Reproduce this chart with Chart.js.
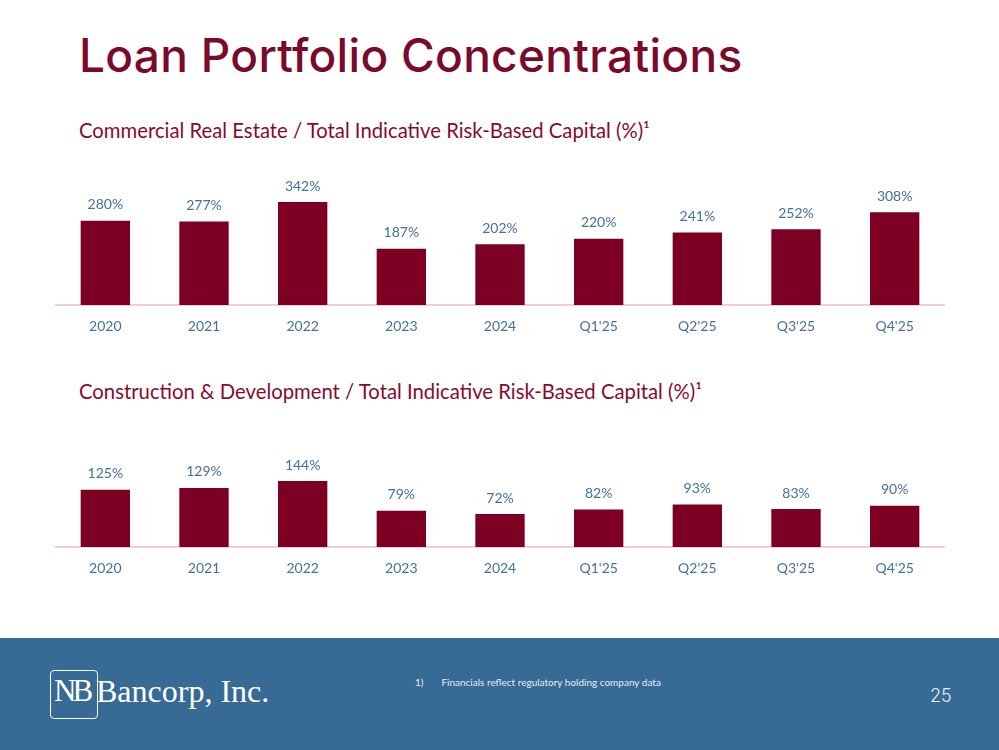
<!DOCTYPE html>
<html>
<head>
<meta charset="utf-8">
<script src="https://cdn.jsdelivr.net/npm/chart.js@4.4.0/dist/chart.umd.min.js"></script>
<style>
  html, body { margin: 0; padding: 0; background: #fff; }
  body { width: 999px; height: 750px; position: relative; overflow: hidden; font-family: Lato, "Open Sans", sans-serif; }
  .title { position: absolute; left: 79px; top: 27px; font-family: Inter, sans-serif; font-weight: 500; font-size: 46px; color: #7a0a2c; letter-spacing: 0.3px; white-space: nowrap; }
  .sub { position: absolute; left: 79px; font-size: 20.3px; color: #860b30; white-space: nowrap; }
  .box { position: absolute; left: 0; width: 999px; height: 200px; }
  .footer { position: absolute; left: 0; top: 638px; width: 999px; height: 112px; background: #376a94; }
  .logo-box { position: absolute; left: 50px; top: 32px; width: 46px; height: 47px; border: 1.5px solid #fff; border-radius: 4px; }
  .logo-nb { position: absolute; left: 54px; top: 35px; font-family: "Liberation Serif", serif; font-size: 31px; color: #fff; letter-spacing: -4px; }
  .logo-name { position: absolute; left: 96px; top: 35px; font-family: "Liberation Serif", serif; font-size: 32px; color: #fff; white-space: nowrap; }
  .note { position: absolute; left: 415px; top: 38px; font-size: 10px; color: #e6edf3; white-space: nowrap; }
  .page { position: absolute; left: 930px; top: 47px; font-family: Inter, sans-serif; font-weight: 300; font-size: 18px; color: #e8eef4; }
</style>
</head>
<body>
<div class="title">Loan Portfolio Concentrations</div>
<div class="sub" style="top:118px">Commercial Real Estate / Total Indicative Risk-Based Capital (%)¹</div>
<div class="box" style="top:160px"><canvas id="creChart"></canvas></div>
<div class="sub" style="top:379px">Construction &amp; Development / Total Indicative Risk-Based Capital (%)¹</div>
<div class="box" style="top:420px"><canvas id="cdChart"></canvas></div>
<div class="footer">
  <div class="logo-box"></div>
  <div class="logo-nb">NB</div>
  <div class="logo-name">Bancorp, Inc.</div>
  <div class="note">1)&nbsp;&nbsp;&nbsp;&nbsp;&nbsp;&nbsp;&nbsp;Financials reflect regulatory holding company data</div>
  <div class="page">25</div>
</div>
<script>
// periods shared by both charts
const periods = ['2020', '2021', '2022', '2023', '2024', "Q1'25", "Q2'25", "Q3'25", "Q4'25"];
// CRE / total indicative risk-based capital (%)
const creValues = [280, 277, 342, 187, 202, 220, 241, 252, 308];
// C&D / total indicative risk-based capital (%)
const cdValues = [125, 129, 144, 79, 72, 82, 93, 83, 90];

const BAR_COLOR = '#7d0024';
const LABEL_COLOR = '#44719c';
const BASE_COLOR = '#f3cdd7';

// draws the "xxx%" labels above each bar
const valueLabels = {
    id: 'valueLabels',
    afterDatasetsDraw(chart) {
        const ctx = chart.ctx;
        const meta = chart.getDatasetMeta(0);
        ctx.save();
        ctx.font = '14px Lato';
        ctx.fillStyle = LABEL_COLOR;
        ctx.textAlign = 'center';
        ctx.textBaseline = 'middle';
        meta.data.forEach((bar, i) => {
            ctx.fillText(chart.data.datasets[0].data[i] + '%', bar.x, bar.y - 16);
        });
        ctx.restore();
    }
};

function makeChart(id, values, yMax, padTop, padBottom) {
    return new Chart(document.getElementById(id), {
        type: 'bar',
        data: {
            labels: periods,
            datasets: [{
                data: values,
                backgroundColor: BAR_COLOR,
                barPercentage: 0.5,
                categoryPercentage: 1.0
            }]
        },
        options: {
            responsive: true,
            maintainAspectRatio: false,
            animation: false,
            layout: { padding: { left: 56, right: 55, top: padTop, bottom: padBottom } },
            plugins: { legend: { display: false }, tooltip: { enabled: false } },
            scales: {
                x: {
                    grid: { display: false, drawTicks: false },
                    border: { display: true, color: BASE_COLOR, width: 2 },
                    ticks: { color: LABEL_COLOR, font: { family: 'Lato', size: 14 }, padding: 13 },
                    afterFit: s => { s.height = 40; }
                },
                y: { display: false, min: 0, max: yMax }
            }
        },
        plugins: [valueLabels]
    });
}

makeChart('creChart', creValues, 400, 24.6, 15);
makeChart('cdChart', cdValues, 200, 35.4, 33);
</script>
</body>
</html>
